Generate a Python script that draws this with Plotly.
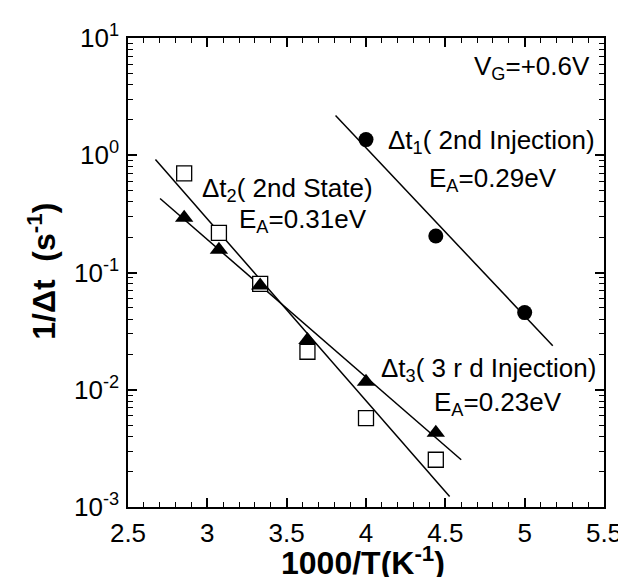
import plotly.graph_objects as go

# Data
x1 = [4.0, 4.44, 5.0]
y1 = [1.36, 0.205, 0.0455]          # Δt1 (2nd Injection), filled circles
x2 = [2.854, 3.073, 3.333, 3.631, 4.0, 4.44]
y2 = [0.70, 0.218, 0.080, 0.0211, 0.00573, 0.00253]   # Δt2 (2nd State), open squares
x3 = [2.854, 3.073, 3.333, 3.631, 4.0, 4.44]
y3 = [0.293, 0.156, 0.0775, 0.0266, 0.0117, 0.0043]   # Δt3 (3rd Injection), filled triangles

# Fit lines (endpoints)
fx1 = [3.808, 5.177]
fy1 = [10**0.339, 10**-1.625]
fx2 = [2.673, 4.527]
fy2 = [10**-0.036, 10**-2.911]
fx3 = [2.702, 4.60]
fy3 = [10**-0.369, 10**-2.597]

ytick_vals = [1e-3, 1e-2, 1e-1, 1e0, 1e1]
ytick_text = ["10<sup>-3</sup>", "10<sup>-2</sup>", "10<sup>-1</sup>", "10<sup>0</sup>", "10<sup>1</sup>"]
xtick_vals = [2.5, 3, 3.5, 4, 4.5, 5, 5.5]
xtick_text = ["2.5", "3", "3.5", "4", "4.5", "5", "5.5"]

yminor = [m * 10.0**e for e in range(-3, 1) for m in range(2, 10)]

fig = go.Figure()
line = dict(color="black", width=1.5)
for fx, fy in [(fx1, fy1), (fx2, fy2), (fx3, fy3)]:
    fig.add_trace(go.Scatter(x=fx, y=fy, mode="lines", line=line, showlegend=False))

fig.add_trace(go.Scatter(x=x2, y=y2, mode="markers", showlegend=False,
                         marker=dict(symbol="square", size=15, color="white",
                                     line=dict(color="black", width=1.3))))
fig.add_trace(go.Scatter(x=x3, y=y3, mode="markers", showlegend=False,
                         marker=dict(symbol="triangle-up", size=16, color="black",
                                     line=dict(color="black", width=0))))
fig.add_trace(go.Scatter(x=x1, y=y1, mode="markers", showlegend=False,
                         marker=dict(symbol="circle", size=15, color="black")))

font_family = "Liberation Sans, Arial, sans-serif"
axcommon = dict(showgrid=False, zeroline=False, showline=True, linecolor="black",
                linewidth=1.5, ticks="inside", ticklen=9, tickwidth=1.5, tickcolor="black",
                mirror="ticks", tickfont=dict(family=font_family, size=26, color="black"))

fig.update_xaxes(range=[2.5, 5.5], tickmode="array", tickvals=xtick_vals, ticktext=xtick_text,
                 minor=dict(ticks="inside", ticklen=5, tickwidth=1.2, tickcolor="black", dtick=0.1, tick0=2.5),
                 ticklabelstandoff=2, **axcommon)
fig.update_yaxes(type="log", range=[-3, 1], tickmode="array", tickvals=ytick_vals, ticktext=ytick_text,
                 minor=dict(ticks="inside", ticklen=5, tickwidth=1.2, tickcolor="black",
                            tickmode="array", tickvals=yminor),
                 ticklabelstandoff=2, **axcommon)

def px(xp):
    return (xp - 120) / 480.0

def py(yp):
    return (499 - yp) / 479.0

title_font = dict(family=font_family, size=32, color="black")
fig.add_annotation(text="<b>1000/T(K<sup>-1</sup>)</b>", x=px(357), y=py(576), xref="paper", yref="paper",
                   xanchor="center", yanchor="bottom", showarrow=False, font=title_font, borderpad=0)
fig.add_annotation(text="<b>1/Δt  (s<sup>-1</sup>)</b>", x=px(33), y=py(258), xref="paper", yref="paper",
                   xanchor="center", yanchor="middle", showarrow=False, font=title_font, textangle=-90)

ann_font = dict(family=font_family, size=26, color="black")
anns = [
    ("V<sub>G</sub>=+0.6V", 467, 50),
    ("Δt<sub>1</sub>( 2nd Injection)", 380, 126),
    ("E<sub>A</sub>=0.29eV", 422, 165),
    ("Δt<sub>2</sub>( 2nd State)", 193, 175),
    ("E<sub>A</sub>=0.31eV", 230, 206),
    ("Δt<sub>3</sub>( 3 r d Injection)", 373, 359),
    ("E<sub>A</sub>=0.23eV", 427, 393),
]
for t, xx, yy in anns:
    fig.add_annotation(text=t, x=px(xx), y=py(yy), xref="paper", yref="paper",
                       xanchor="left", yanchor="middle", showarrow=False, font=ann_font)

fig.update_layout(width=626, height=577, margin=dict(l=120, r=26, t=20, b=78),
                  plot_bgcolor="white", paper_bgcolor="white",
                  font=dict(family=font_family, color="black"))

fig.write_html("out.html")
